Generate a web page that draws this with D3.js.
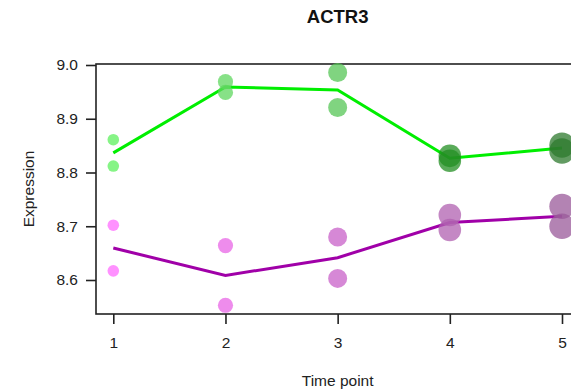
<!DOCTYPE html>
<html lang="en">
<head>
    <meta charset="UTF-8">
    <title>ACTR3</title>
    <script src="https://d3js.org/d3.v7.min.js"></script>
    <style>
        body {
            margin: 0;
            background: #fff;
            font-family: "Liberation Sans", Arial, sans-serif;
            overflow: hidden;
        }
        .tick text {
            font-size: 15.5px;
            fill: #222;
        }
        .label {
            font-size: 15.5px;
            fill: #222;
        }
    </style>
</head>
<body>
    <script>
        // Values
        const timePoints = [1, 2, 3, 4, 5];
        const greenRep1 = [8.861, 8.969, 8.986, 8.831, 8.851];
        const greenRep2 = [8.812, 8.949, 8.921, 8.822, 8.840];
        const magentaRep1 = [8.702, 8.664, 8.680, 8.721, 8.737];
        const magentaRep2 = [8.617, 8.553, 8.603, 8.693, 8.700];
        const yTicks = [8.6, 8.7, 8.8, 8.9, 9.0];

        // point colours per time point (lighter -> darker)
        const greenFill = ["#5ef05e", "#5fd75f", "#55c555", "#238f23", "#2e7a2e"];
        const magentaFill = ["#ff6cff", "#e866e6", "#c860c8", "#b060b0", "#9a5a9a"];
        const radius = [5.8, 7.6, 9.5, 11.3, 12.7];

        const width = 571, height = 389;
        const svg = d3.select("body").append("svg")
            .attr("width", width)
            .attr("height", height);

        const x = d3.scaleLinear().domain([1, 5]).range([113.3, 562]);
        const y = d3.scaleLinear().domain([8.6, 9.0]).range([280, 65]);

        const plotLeft = 96, plotTop = 64, plotBottom = 314, plotRight = 590;

        // frame
        svg.append("rect")
            .attr("x", plotLeft).attr("y", plotTop)
            .attr("width", plotRight - plotLeft).attr("height", plotBottom - plotTop)
            .attr("fill", "none").attr("stroke", "#222").attr("stroke-width", 1.6);

        // axes
        const xAxis = svg.append("g")
            .attr("transform", `translate(0,${plotBottom})`)
            .call(d3.axisBottom(x).tickValues(timePoints).tickFormat(d3.format("d"))
                .tickSize(10).tickPadding(13));
        xAxis.select(".domain").remove();

        const yAxis = svg.append("g")
            .attr("transform", `translate(${plotLeft},0)`)
            .call(d3.axisLeft(y).tickValues(yTicks).tickFormat(d3.format(".1f"))
                .tickSize(10).tickPadding(8));
        yAxis.select(".domain").remove();

        svg.selectAll(".tick line").attr("stroke", "#222").attr("stroke-width", 1.6);

        // mean lines
        const series = [
            { reps: [greenRep1, greenRep2], fills: greenFill, line: "#00ee00" },
            { reps: [magentaRep1, magentaRep2], fills: magentaFill, line: "#a000a8" }
        ];

        const line = d3.line().x(d => x(d[0])).y(d => y(d[1]));

        series.forEach(s => {
            const means = timePoints.map((t, i) => [t, (s.reps[0][i] + s.reps[1][i]) / 2]);
            svg.append("path")
                .datum(means)
                .attr("d", line)
                .attr("fill", "none")
                .attr("stroke", s.line)
                .attr("stroke-width", 3);

            s.reps.forEach(rep => {
                svg.append("g").selectAll("circle")
                    .data(rep)
                    .join("circle")
                    .attr("cx", (d, i) => x(timePoints[i]))
                    .attr("cy", d => y(d))
                    .attr("r", (d, i) => radius[i])
                    .attr("fill", (d, i) => s.fills[i])
                    .attr("fill-opacity", 0.75);
            });
        });

        // title and labels
        svg.append("text")
            .attr("x", x(3)).attr("y", 23)
            .attr("text-anchor", "middle")
            .style("font-size", "18.5px").style("font-weight", "bold").attr("fill", "#111")
            .text("ACTR3");

        svg.append("text").attr("class", "label")
            .attr("x", x(3)).attr("y", 386)
            .attr("text-anchor", "middle")
            .text("Time point");

        svg.append("text").attr("class", "label")
            .attr("transform", "translate(34,189) rotate(-90)")
            .attr("text-anchor", "middle")
            .text("Expression");
    </script>
</body>
</html>
